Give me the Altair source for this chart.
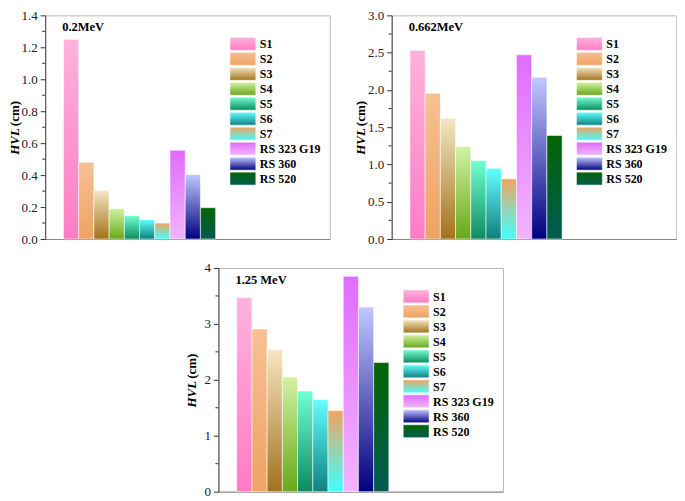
import altair as alt
import pandas as pd

categories = ["S1", "S2", "S3", "S4", "S5", "S6", "S7", "RS 323 G19", "RS 360", "RS 520"]
positions = list(range(10))

hvl_02 = [1.25, 0.48, 0.305, 0.19, 0.146, 0.122, 0.10, 0.556, 0.404, 0.196]
hvl_0662 = [2.53, 1.955, 1.62, 1.24, 1.053, 0.95, 0.807, 2.47, 2.17, 1.39]
hvl_125 = [3.47, 2.91, 2.54, 2.05, 1.80, 1.65, 1.45, 3.85, 3.30, 2.31]

energy_labels = ["0.2MeV", "0.662MeV", "1.25 MeV"]
y_max = [1.4, 3.0, 4]
major_ticks = [
    [0.0, 0.2, 0.4, 0.6, 0.8, 1.0, 1.2, 1.4],
    [0.0, 0.5, 1.0, 1.5, 2.0, 2.5, 3.0],
    [0, 1, 2, 3, 4],
]
minor_ticks = [
    [0.1, 0.3, 0.5, 0.7, 0.9, 1.1, 1.3],
    [0.25, 0.75, 1.25, 1.75, 2.25, 2.75],
    [0.5, 1.5, 2.5, 3.5],
]
label_formats = [".1f", ".1f", "d"]

top_colors = ["#ffb2dc", "#f6c195", "#f5e6c2", "#d2f2a2", "#72ffd2", "#66ffff",
              "#f2a462", "#e06cff", "#c2c8ff", "#046404"]
bottom_colors = ["#ff7cc4", "#f0a262", "#a2721a", "#68a81a", "#0e8a60", "#0e8080",
                 "#40ffff", "#f2b4ff", "#000080", "#025a52"]

SERIF = "Liberation Serif"
W, H = 285, 224


def panel(values, label, ymax, majors, minors, fmt, title_x):
    df = pd.DataFrame({"cat": categories, "pos": positions, "hvl": values})
    xscale = alt.Scale(domain=[-1.2, 17.5], nice=False, zero=False)
    yscale = alt.Scale(domain=[0, ymax], nice=False, zero=True)
    yaxis = alt.Axis(values=majors, format=fmt, title=None, grid=False,
                     labelFont=SERIF, labelFontSize=13, labelColor="#222",
                     tickSize=5, tickColor="#333", domainColor="#444",
                     labelPadding=3, ticks=True)
    xaxis = alt.Axis(title=None, labels=False, ticks=False, grid=False,
                     domainColor="#888")
    base = alt.Chart(df).transform_calculate(x1="datum.pos + 1")
    layers = []
    for i, c in enumerate(categories):
        grad = alt.LinearGradient(
            gradient="linear",
            stops=[alt.GradientStop(color=top_colors[i], offset=0),
                   alt.GradientStop(color=bottom_colors[i], offset=1)],
            x1=0, x2=0, y1=0, y2=1)
        sub = base.transform_filter(alt.datum.cat == c)
        bar = sub.mark_bar(fill=grad, stroke="#ffffff", strokeOpacity=0.55,
                           strokeWidth=1).encode(
            x=alt.X("pos:Q", scale=xscale, axis=xaxis),
            x2="x1:Q",
            y=alt.Y("hvl:Q", scale=yscale, axis=yaxis),
            y2=alt.datum(0),
        )
        swatch = sub.mark_rect(fill=grad, stroke="#ffffff", strokeOpacity=0.6,
                               strokeWidth=1).encode(
            x=alt.value(185), x2=alt.value(211),
            y=alt.value(22 + 15 * i), y2=alt.value(35 + 15 * i),
        )
        txt = sub.mark_text(align="left", baseline="middle", font=SERIF,
                            fontSize=12, fontWeight="bold", color="#000").encode(
            x=alt.value(215), y=alt.value(29 + 15 * i), text="cat:N",
        )
        layers += [bar, swatch, txt]

    minor_df = pd.DataFrame({"v": minors})
    minor = alt.Chart(minor_df).mark_rule(color="#333", strokeWidth=1).encode(
        y=alt.Y("v:Q", scale=yscale, axis=yaxis),
        x=alt.value(0), x2=alt.value(-3),
    )
    lab_df = pd.DataFrame({"t": [label]})
    energy = alt.Chart(lab_df).mark_text(align="left", baseline="middle", font=SERIF,
                                         fontSize=12.5, fontWeight="bold",
                                         color="#000").encode(
        x=alt.value(17), y=alt.value(12), text="t:N")
    title_df = pd.DataFrame({"a": ["HVL"], "b": ["(cm)"]})
    t1 = alt.Chart(title_df).mark_text(angle=270, align="right", baseline="middle",
                                       font=SERIF, fontSize=13, fontWeight="bold",
                                       fontStyle="italic", color="#000").encode(
        x=alt.value(title_x), y=alt.value(H / 2 + 1), text="a:N")
    t2 = alt.Chart(title_df).mark_text(angle=270, align="left", baseline="middle",
                                       font=SERIF, fontSize=13, fontWeight="bold",
                                       color="#000").encode(
        x=alt.value(title_x), y=alt.value(H / 2 - 1), text="b:N")
    return alt.layer(*layers, minor, energy, t1, t2).properties(width=W, height=H)


p1 = panel(hvl_02, energy_labels[0], y_max[0], major_ticks[0], minor_ticks[0],
           label_formats[0], -30.5)
p2 = panel(hvl_0662, energy_labels[1], y_max[1], major_ticks[1], minor_ticks[1],
           label_formats[1], -30.5)
p3 = panel(hvl_125, energy_labels[2], y_max[2], major_ticks[2], minor_ticks[2],
           label_formats[2], -26.5)

row = alt.hconcat(p1, p2, spacing=24)
chart = alt.vconcat(row, p3, spacing=14, center=True).properties(
    padding=0, background="white"
).configure_view(stroke="#bbbbbb", strokeWidth=1)

chart.save("out.html", embed_options={"renderer": "svg", "actions": False})
